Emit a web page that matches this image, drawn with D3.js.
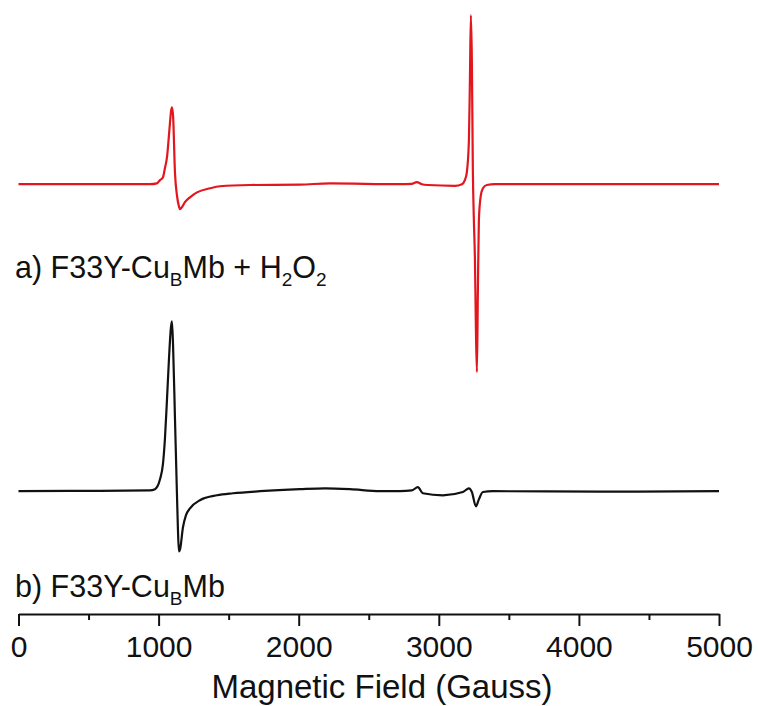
<!DOCTYPE html>
<html>
<head>
<meta charset="utf-8">
<script src="https://cdn.jsdelivr.net/npm/d3@7"></script>
<style>
  body { margin: 0; background: #fff; }
  svg { display: block; font-family: "Liberation Sans", Arial, sans-serif; }
</style>
</head>
<body>
<div id="chart"></div>
<script>
// Spectrum a) F33Y-CuBMb + H2O2 (red), field in Gauss, intensity in a.u.
const fieldA = [0, 938, 988, 1010, 1031, 1045, 1060, 1074, 1081, 1088, 1095, 1103, 1117, 1131, 1145, 1153, 1167, 1188, 1224, 1274, 1367, 1438, 1652, 2009, 2223, 2722, 2807, 2843, 2879, 2922, 3115, 3165, 3186, 3200, 3215, 3222, 3229, 3236, 3243, 3250, 3258, 3265, 3272, 3279, 3286, 3300, 3315, 3343, 3400, 5000];
const intensityA = [0, 0, 0.02, 0.1, 0.17, 0.39, 0.66, 1.2, 1.49, 1.76, 1.88, 1.69, 0.27, -0.27, -0.54, -0.61, -0.56, -0.44, -0.32, -0.2, -0.1, -0.05, -0.02, -0.01, 0.02, 0, 0.01, 0.05, 0, -0.02, -0.04, 0, 0.1, 0.29, 1.08, 2.54, 4.13, 3.03, 0.34, -0.83, -1.86, -3.57, -4.59, -2.59, -0.88, -0.27, -0.1, -0.02, 0, 0];

// Spectrum b) F33Y-CuBMb (black)
const fieldB = [0, 582, 938, 974, 1010, 1031, 1045, 1060, 1074, 1088, 1095, 1103, 1117, 1131, 1138, 1145, 1153, 1174, 1195, 1224, 1295, 1417, 1531, 1724, 2009, 2188, 2366, 2580, 2722, 2808, 2851, 2886, 3029, 3172, 3215, 3236, 3265, 3286, 3315, 3386, 4149, 5000];
const intensityB = [0, 0.01, 0.02, 0.05, 0.29, 0.66, 1.27, 2.25, 3.23, 4.0, 4.15, 3.59, 1.76, -0.07, -0.93, -1.47, -1.42, -0.88, -0.59, -0.42, -0.22, -0.1, -0.05, 0, 0.05, 0.07, 0.05, 0, 0, 0.02, 0.1, -0.05, -0.1, -0.02, 0.07, -0.02, -0.37, -0.2, -0.02, 0, -0.01, 0];

// vertical stacking offsets (a.u.)
const offsetA = 0;
const offsetB = -7.5;

const xTicks = [0, 1000, 2000, 3000, 4000, 5000];
const xMinorTicks = [500, 1500, 2500, 3500, 4500];

const width = 758;
const height = 706;
const axisY = 614;

const svg = d3.select("#chart")
    .append("svg")
    .attr("width", width)
    .attr("height", height);

const x = d3.scaleLinear().domain([0, 5000]).range([18.5, 719]);
const y = d3.scaleLinear().domain([-10.5, 4.5]).range([axisY, 0]);

const line = (offset) => d3.line()
    .curve(d3.curveMonotoneX)
    .x(d => x(d[0]))
    .y(d => y(d[1] + offset));

// traces
svg.append("path")
    .datum(d3.zip(fieldB, intensityB))
    .attr("fill", "none")
    .attr("stroke", "#111")
    .attr("stroke-width", 2.2)
    .attr("stroke-linejoin", "round")
    .attr("d", line(offsetB));

svg.append("path")
    .datum(d3.zip(fieldA, intensityA))
    .attr("fill", "none")
    .attr("stroke", "#e3161d")
    .attr("stroke-width", 2.2)
    .attr("stroke-linejoin", "round")
    .attr("d", line(offsetA));

// x axis
const xAxis = svg.append("g")
    .attr("transform", `translate(0,${axisY})`)
    .call(d3.axisBottom(x).tickValues(xTicks).tickFormat(d3.format("d"))
        .tickSize(12).tickSizeOuter(0).tickPadding(10));

xAxis.select(".domain").attr("stroke", "#111").attr("stroke-width", 2);
xAxis.selectAll(".tick line").attr("stroke", "#111").attr("stroke-width", 2);
xAxis.selectAll(".tick text")
    .attr("font-size", 30)
    .attr("font-family", "'Liberation Sans', Arial, sans-serif")
    .attr("fill", "#111");

const minor = svg.append("g")
    .attr("transform", `translate(0,${axisY})`)
    .call(d3.axisBottom(x).tickValues(xMinorTicks).tickSize(6).tickFormat(""));
minor.select(".domain").remove();
minor.selectAll(".tick line").attr("stroke", "#111").attr("stroke-width", 2);

// axis title
svg.append("text")
    .attr("x", 382)
    .attr("y", 698)
    .attr("text-anchor", "middle")
    .attr("font-size", 33)
    .attr("fill", "#111")
    .text("Magnetic Field (Gauss)");

// series labels with subscripts
const addLabel = (ypos, parts) => {
    const t = svg.append("text")
        .attr("x", 15)
        .attr("y", ypos)
        .attr("font-size", 30.5)
        .attr("fill", "#111");
    parts.forEach(p => {
        const s = t.append("tspan").text(p[0]);
        if (p[1]) s.attr("font-size", 19).attr("dy", 8);
        else if (p[2]) s.attr("dy", -8);
    });
};

addLabel(278, [["a) F33Y-Cu"], ["B", true], ["Mb + H", false, true], ["2", true], ["O", false, true], ["2", true]]);
addLabel(597, [["b) F33Y-Cu"], ["B", true], ["Mb", false, true]]);
</script>
</body>
</html>
